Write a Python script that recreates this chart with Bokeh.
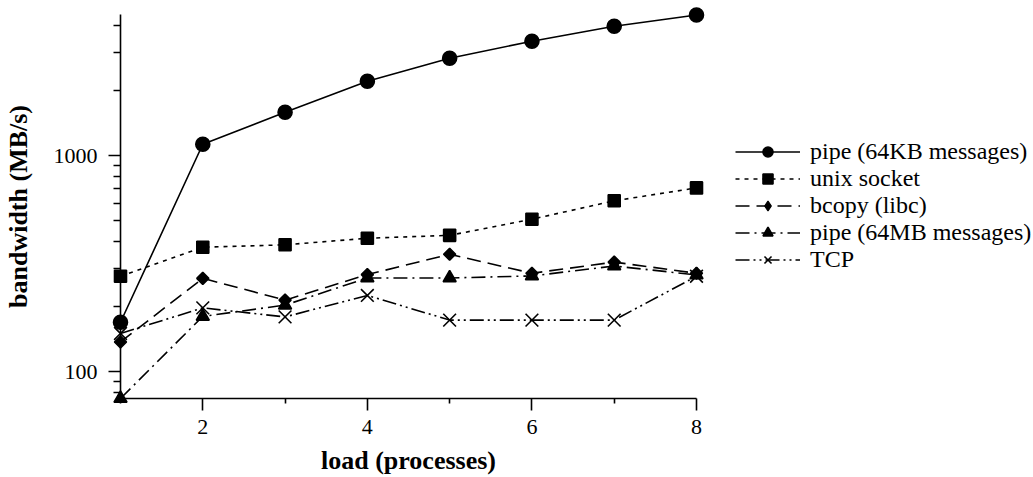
import math
from bokeh.plotting import figure
from bokeh.models import Range1d, FixedTicker, PrintfTickFormatter, Legend, LegendItem
from bokeh.embed import file_html
from bokeh.resources import INLINE

# ---- data ----
load = [1, 2, 3, 4, 5, 6, 7, 8]
pipe_64kb = [169, 1128, 1586, 2208, 2822, 3382, 3966, 4477]
unix_socket = [276, 376, 386, 414, 427, 507, 617, 708]
bcopy_libc = [137, 270, 214, 281, 349, 285, 321, 285]
pipe_64mb = [75, 180, 203, 271, 271, 277, 308, 280]
tcp = [150, 197, 179, 225, 173, 173, 173, 276]

series_labels = ["pipe (64KB messages)", "unix socket", "bcopy (libc)",
                 "pipe (64MB messages)", "TCP"]
x_ticks = [2, 4, 6, 8]
x_minor = [1, 3, 5, 7]
y_ticks = [100, 1000]
y_minor = [80, 90, 200, 300, 400, 500, 600, 700, 800, 900, 2000, 3000, 4000]

FONT = "Liberation Serif"

# The frame covers the whole canvas; axes are pinned with fixed_location so
# that markers on the axis ends are not clipped.
p = figure(width=1033, height=477, output_backend="svg", toolbar_location=None,
           x_range=Range1d(-0.45833, 12.0955), y_range=Range1d(32.30, 5221.6),
           y_axis_type="log",
           min_border_left=0, min_border_right=0,
           min_border_top=0, min_border_bottom=0)
p.outline_line_color = None
p.xgrid.grid_line_color = None
p.ygrid.grid_line_color = None
p.background_fill_color = "white"
p.border_fill_color = "white"

styles = [
    (pipe_64kb, "solid", "circle", 14, 0),
    (unix_socket, "4 5", "square", 12, 0),
    (bcopy_libc, "14 7", "square", 8.5, math.pi / 4),
    (pipe_64mb, "14 5 2 5", "triangle", 13, 0),
    (tcp, "14 4 2 4 2 4", "x", 18, 0),
]

items = []
for (vals, dash, marker, size, ang), lab in zip(styles, series_labels):
    r1 = p.line(load, vals, line_color="black", line_width=1.6, line_dash=dash)
    r2 = p.scatter(load, vals, marker=marker, size=size, angle=ang,
                   fill_color="black", line_color="black", line_width=1.6)
    if ang != 0:
        # legend swatch: an unrotated diamond (legend ignores angle)
        r2 = p.scatter([float("nan")], [float("nan")], marker="diamond", size=13,
                       fill_color="black", line_color="black", line_width=1.2)
    items.append(LegendItem(label=lab, renderers=[r1, r2]))

legend = Legend(items=items, location=(735, 204), padding=0, margin=0,
                spacing=0, glyph_width=65, glyph_height=25, label_height=25,
                label_standoff=10, border_line_color=None,
                background_fill_alpha=0, label_text_font=FONT,
                label_text_font_size="24px", label_text_color="black")
p.add_layout(legend, "center")

xa = p.xaxis[0]
xa.fixed_location = 75
xa.bounds = (1, 8)
xa.ticker = FixedTicker(ticks=x_ticks, minor_ticks=x_minor)
xa.axis_label = "load (processes)"
ya = p.yaxis[0]
ya.fixed_location = 1
ya.bounds = (75, 4480)
ya.ticker = FixedTicker(ticks=y_ticks, minor_ticks=y_minor)
ya.formatter = PrintfTickFormatter(format="%d")
ya.axis_label = "bandwidth (MB/s)"

for ax in (xa, ya):
    ax.axis_line_width = 1.6
    ax.axis_line_color = "black"
    ax.major_tick_line_width = 1.6
    ax.minor_tick_line_width = 1.6
    ax.major_tick_line_color = "black"
    ax.minor_tick_line_color = "black"
    ax.major_tick_in = 0
    ax.minor_tick_in = 0
    ax.major_tick_out = 12
    ax.major_label_text_font = FONT
    ax.major_label_text_font_size = "22px"
    ax.major_label_text_color = "black"
    ax.axis_label_text_font = FONT
    ax.axis_label_text_font_size = "26px"
    ax.axis_label_text_font_style = "bold"
    ax.axis_label_text_color = "black"

xa.minor_tick_out = 5
ya.minor_tick_out = 7
xa.major_label_standoff = 10
ya.major_label_standoff = 11
xa.axis_label_standoff = 8
ya.axis_label_standoff = 18

open("out.html", "w").write(file_html(p, INLINE))
